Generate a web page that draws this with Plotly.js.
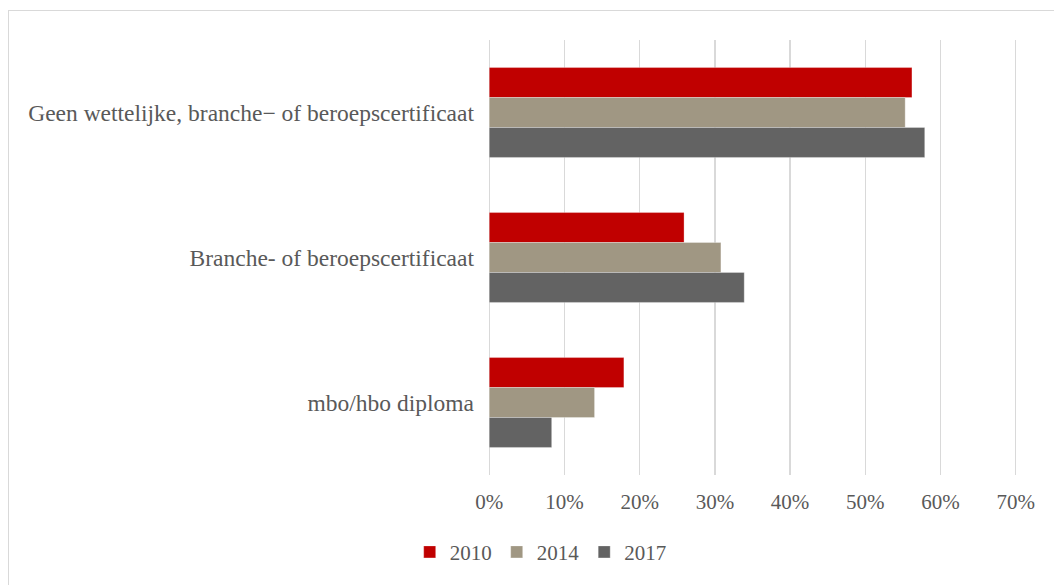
<!DOCTYPE html>
<html>
<head>
<meta charset="utf-8">
<script src="https://cdn.plot.ly/plotly-3.0.1.min.js"></script>
<style>
html,body{margin:0;padding:0;overflow:hidden;background:#fff;}
#chart{width:1054px;height:585px;}
#frame{position:absolute;left:8px;top:10px;width:1200px;height:700px;border:1px solid #d9d9d9;pointer-events:none;}
</style>
</head>
<body>
<div id="chart"></div>
<div id="frame"></div>
<script>
const categories = ["Geen wettelijke, branche\u2212 of beroepscertificaat", "Branche- of beroepscertificaat", "mbo/hbo diploma"];
const seriesNames = ["2010", "2014", "2017"];
const values2010 = [0.562, 0.259, 0.179];
const values2014 = [0.553, 0.308, 0.140];
const values2017 = [0.579, 0.339, 0.083];
const colors = ["#c00000", "#a09783", "#636363"];
const xTicks = [0, 0.1, 0.2, 0.3, 0.4, 0.5, 0.6, 0.7];
const xTickLabels = ["0%", "10%", "20%", "30%", "40%", "50%", "60%", "70%"];

const allValues = [values2010, values2014, values2017];
const traces = seriesNames.map((name, i) => ({
  type: "bar",
  orientation: "h",
  name: name,
  y: categories,
  x: allValues[i],
  marker: {color: colors[i], line: {color: "rgba(255,255,255,0.6)", width: 0.5}},
  hoverinfo: "x+name"
}));

const fam = "'Liberation Serif', 'DejaVu Serif', serif";
const font = {family: fam, size: 21, color: "#595959"};

const layout = {
  width: 1054, height: 585,
  margin: {l: 487, r: 36, t: 40, b: 110},
  paper_bgcolor: "#fff", plot_bgcolor: "#fff",
  font: font,
  barmode: "group",
  bargap: 0.38,
  bargroupgap: 0,
  xaxis: {
    range: [-0.003, 0.703],
    tickvals: xTicks, ticktext: xTickLabels,
    showgrid: true, gridcolor: "#d9d9d9", gridwidth: 1.5,
    zeroline: false, showline: false, ticks: "",
    ticklabelstandoff: 12,
    fixedrange: true
  },
  yaxis: {
    autorange: "reversed",
    showgrid: false, zeroline: false, showline: false, ticks: "",
    ticklabelstandoff: 12,
    tickfont: {family: fam, size: 23.5, color: "#595959"},
    fixedrange: true
  },
  showlegend: true,
  legend: {
    orientation: "h",
    xref: "container", yref: "container",
    x: 0.513, xanchor: "center",
    y: 0.056, yanchor: "middle",
    font: font,
    itemwidth: 30,
    traceorder: "normal"
  }
};

Plotly.newPlot("chart", traces, layout, {displayModeBar: false, staticPlot: true});
</script>
</body>
</html>
